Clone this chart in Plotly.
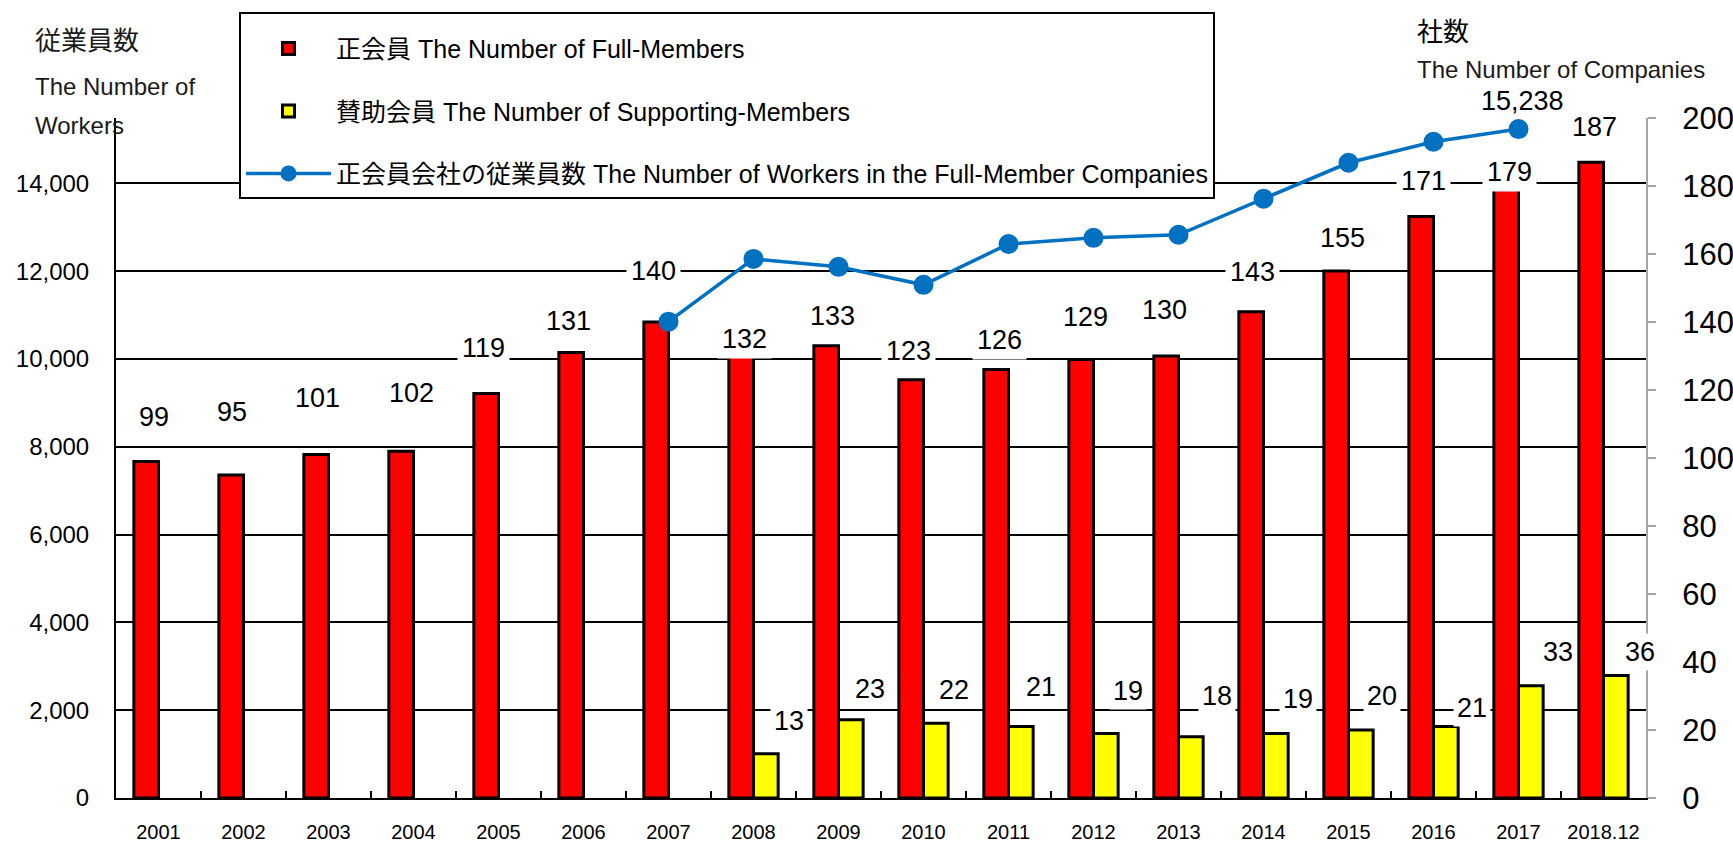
import plotly.graph_objects as go

# ---------------- data ----------------
years = ["2001", "2002", "2003", "2004", "2005", "2006", "2007", "2008", "2009",
         "2010", "2011", "2012", "2013", "2014", "2015", "2016", "2017", "2018.12"]
full_members = [99, 95, 101, 102, 119, 131, 140, 132, 133, 123, 126, 129, 130,
                143, 155, 171, 179, 187]
supporting_members = [None, None, None, None, None, None, None, 13, 23, 22, 21,
                      19, 18, 19, 20, 21, 33, 36]
workers = [None, None, None, None, None, None, 10850, 12280, 12100, 11690, 12620,
           12760, 12830, 13650, 14470, 14950, 15238, None]
workers_label = "15,238"

left_ticks = [0, 2000, 4000, 6000, 8000, 10000, 12000, 14000]
left_ticktext = ["0", "2,000", "4,000", "6,000", "8,000", "10,000", "12,000", "14,000"]
right_ticks = [0, 20, 40, 60, 80, 100, 120, 140, 160, 180, 200]

# ---------------- label placement (pixel offsets, style only) ----------------
full_dx = [-4.5, -11.5, -11.5, -2.5, -15.5, -15.5, -15.5, -9.5, -6.5, -15.5, -9.5,
           -8.5, -14.5, -11.5, -6.5, -10.5, -9.5, -9.5]
full_dy = [44, 63, 57, 58, 45, 32, 51, 10, 30, 29, 30, 42, 46, 40, 33, 36, 17, 35]
sup_dx = [0, 0, 0, 0, 0, 0, 0, 35, 31, 30, 32, 34, 38, 34, 33, 38, 39, 36]
sup_dy = [0, 0, 0, 0, 0, 0, 0, 33, 31, 33, 40, 42, 41, 34, 34, 19, 34, 24]

NUM_FONT = "Liberation Sans, Arial, Noto Sans CJK JP, sans-serif"
TXT_FONT = "Liberation Sans, Noto Sans CJK JP, sans-serif"

fig = go.Figure()

fig.add_trace(go.Bar(
    x=years, y=full_members, name="正会員 The Number of Full-Members",
    marker=dict(color="#FF0000", line=dict(color="#000000", width=3)),
    yaxis="y", legendgroup="a",
))
fig.add_trace(go.Bar(
    x=years, y=supporting_members, name="賛助会員 The Number of Supporting-Members",
    marker=dict(color="#FFFF00", line=dict(color="#000000", width=3)),
    yaxis="y", legendgroup="b",
))
fig.add_trace(go.Scatter(
    x=years, y=workers, name="正会員会社の従業員数 The Number of Workers in the Full-Member Companies",
    mode="lines+markers", line=dict(color="#0070C0", width=3.5),
    marker=dict(color="#0070C0", size=20), yaxis="y2", legendgroup="c",
))

annotations = []
for i, v in enumerate(full_members):
    annotations.append(dict(
        x=i, y=v, xref="x", yref="y", text=str(v), showarrow=False,
        xshift=full_dx[i], yshift=full_dy[i], yanchor="middle",
        font=dict(family=NUM_FONT, size=27, color="#000000"),
        bgcolor="#FFFFFF", borderpad=4,
    ))
for i, v in enumerate(supporting_members):
    if v is None:
        continue
    annotations.append(dict(
        x=i, y=v, xref="x", yref="y", text=str(v), showarrow=False,
        xshift=sup_dx[i], yshift=sup_dy[i], yanchor="middle",
        font=dict(family=NUM_FONT, size=27, color="#000000"),
        bgcolor="#FFFFFF", borderpad=3,
    ))
last_i = max(i for i, w in enumerate(workers) if w is not None)
annotations.append(dict(
    x=last_i, y=workers[last_i], xref="x", yref="y2", text=workers_label,
    showarrow=False, xshift=3.5, yshift=28, yanchor="middle",
    font=dict(family=NUM_FONT, size=27, color="#000000"),
    bgcolor="#FFFFFF", borderpad=2,
))

# axis titles
title_font = dict(family=TXT_FONT, size=24, color="#1a1a1a")
annotations += [
    dict(x=-0.0542, y=1.1132, xref="paper", yref="paper", text="従業員数",
         showarrow=False, xanchor="left", yanchor="middle",
         font=dict(family=TXT_FONT, size=26, color="#1a1a1a")),
    dict(x=-0.0542, y=1.047, xref="paper", yref="paper", text="The Number of",
         showarrow=False, xanchor="left", yanchor="middle", font=title_font),
    dict(x=-0.0542, y=0.9897, xref="paper", yref="paper", text="Workers",
         showarrow=False, xanchor="left", yanchor="middle", font=title_font),
    dict(x=0.849, y=1.1265, xref="paper", yref="paper", text="社数",
         showarrow=False, xanchor="left", yanchor="middle",
         font=dict(family=TXT_FONT, size=26, color="#000000")),
    dict(x=0.849, y=1.0706, xref="paper", yref="paper", text="The Number of Companies",
         showarrow=False, xanchor="left", yanchor="middle", font=title_font),
]

fig.update_layout(
    width=1733, height=844,
    margin=dict(l=116, r=87, t=118, b=46, autoexpand=False),
    paper_bgcolor="#FFFFFF", plot_bgcolor="#FFFFFF",
    barmode="group", bargap=0.42, bargroupgap=0,
    showlegend=True,
    legend=dict(
        x=0.0804, y=1.1559, xanchor="left", yanchor="top",
        bgcolor="#FFFFFF", bordercolor="#000000", borderwidth=2,
        font=dict(family=TXT_FONT, size=25, color="#000000"),
        tracegroupgap=27, itemwidth=85, traceorder="grouped",
        title=dict(text=" ", font=dict(size=9)),
    ),
    xaxis=dict(
        type="category", categoryorder="array", categoryarray=years,
        range=[-0.5, len(years) - 0.5], autorange=False, automargin=False,
        showgrid=False, showline=True, linecolor="#000000",
        linewidth=2, ticks="inside", tickson="boundaries", ticklen=7,
        tickcolor="#000000", tickwidth=2, tickangle=0,
        tickfont=dict(family=NUM_FONT, size=20, color="#000000"),
        ticklabelstandoff=15,
    ),
    yaxis=dict(
        side="right", range=[0, 200], tickvals=right_ticks, showgrid=False,
        showline=True, linecolor="#A6A6A6", linewidth=2, ticks="outside",
        ticklen=8, tickcolor="#A6A6A6", tickwidth=2, zeroline=False,
        automargin=False,
        tickfont=dict(family=NUM_FONT, size=31, color="#000000"),
        ticklabelstandoff=20,
    ),
    yaxis2=dict(
        overlaying="y", side="left", range=[0, 15490], tickvals=left_ticks,
        ticktext=left_ticktext, showgrid=True, gridcolor="#000000", gridwidth=2,
        showline=True, linecolor="#000000", linewidth=2, ticks="", zeroline=False,
        automargin=False,
        tickfont=dict(family=NUM_FONT, size=24, color="#000000"),
        ticklabelstandoff=20,
    ),
    annotations=annotations,
)

fig.write_html("out.html", config={"displayModeBar": False},
               post_script="document.body.style.margin='0';")
